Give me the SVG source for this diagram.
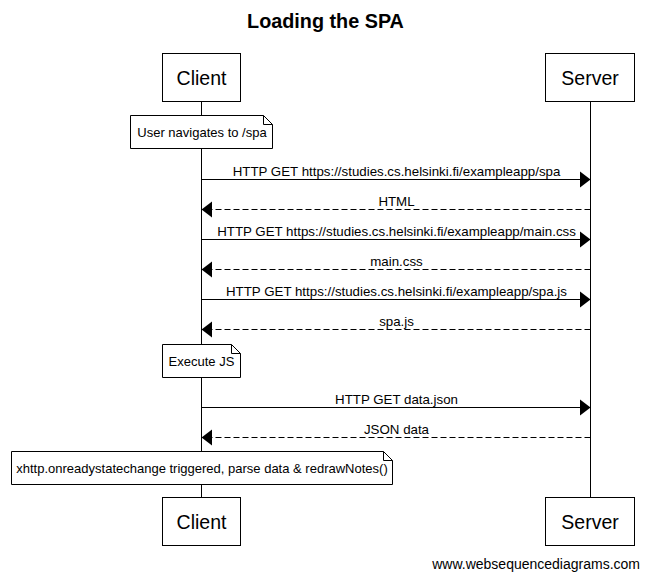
<svg xmlns="http://www.w3.org/2000/svg" width="649" height="581" viewBox="0 0 649 581">
<style>
text{font-family:"Liberation Sans",Arial,sans-serif;fill:#000}
.title{font-size:19.8px;font-weight:bold;text-anchor:middle}
.part{font-size:19.5px;text-anchor:middle}
.lbl{font-size:13.3px;text-anchor:middle}
.nt{font-size:13px;text-anchor:middle}
.box{fill:#fff;stroke:#000;stroke-width:1}
.life{stroke:#000;stroke-width:1;fill:none}
.msg{stroke:#000;stroke-width:1;fill:none}
.ret{stroke:#000;stroke-width:1;fill:none;stroke-dasharray:6,3}
.head{fill:#000;stroke:none}
.wm{font-size:14px;text-anchor:end}
</style>
<rect width="649" height="581" fill="#fff"/>
<text class="title" x="325.5" y="28">Loading the SPA</text>
<g id="lifelines">
<line class="life" x1="201.5" y1="101.5" x2="201.5" y2="497.5"/>
<line class="life" x1="590.5" y1="101.5" x2="590.5" y2="497.5"/>
</g>
<g id="client-top"><rect class="box" x="162.5" y="53.5" width="78" height="48"/><text class="part" x="201.5" y="84.5">Client</text></g>
<g id="server-top"><rect class="box" x="545.5" y="53.5" width="89" height="48"/><text class="part" x="590" y="84.5">Server</text></g>
<g id="client-bottom"><rect class="box" x="162.5" y="497.5" width="78" height="48"/><text class="part" x="201.5" y="528.5">Client</text></g>
<g id="server-bottom"><rect class="box" x="545.5" y="497.5" width="89" height="48"/><text class="part" x="590" y="528.5">Server</text></g>
<g id="note1"><path class="box" d="M130.5,115.5 H263.5 L272.5,124.5 V148.5 H130.5 Z"/><path class="life" d="M263.5,115.5 V124.5 H272.5"/><text class="nt" x="202" y="136.5">User navigates to /spa</text></g>
<g id="note2"><path class="box" d="M162.5,344.5 H231.5 L240.5,353.5 V377.5 H162.5 Z"/><path class="life" d="M231.5,344.5 V353.5 H240.5"/><text class="nt" x="201.5" y="365.5">Execute JS</text></g>
<g id="note3"><path class="box" d="M11.5,451.5 H383.5 L392.5,460.5 V484.5 H11.5 Z"/><path class="life" d="M383.5,451.5 V460.5 H392.5"/><text class="nt" x="202" y="472.5">xhttp.onreadystatechange triggered, parse data &amp; redrawNotes()</text></g>
<g id="connectors">
<line class="msg" x1="201.5" y1="179.5" x2="581" y2="179.5"/><polygon class="head" points="580,171.5 590.5,179.5 580,187.5"/>
<text class="lbl" x="396.5" y="175.5">HTTP GET https://studies.cs.helsinki.fi/exampleapp/spa</text>
<line class="ret" x1="590.5" y1="209.5" x2="211" y2="209.5"/><polygon class="head" points="212,201.5 201.5,209.5 212,217.5"/>
<text class="lbl" x="396.5" y="205.5">HTML</text>
<line class="msg" x1="201.5" y1="239.5" x2="581" y2="239.5"/><polygon class="head" points="580,231.5 590.5,239.5 580,247.5"/>
<text class="lbl" x="396.5" y="235.5">HTTP GET https://studies.cs.helsinki.fi/exampleapp/main.css</text>
<line class="ret" x1="590.5" y1="269.5" x2="211" y2="269.5"/><polygon class="head" points="212,261.5 201.5,269.5 212,277.5"/>
<text class="lbl" x="396.5" y="265.5">main.css</text>
<line class="msg" x1="201.5" y1="299.5" x2="581" y2="299.5"/><polygon class="head" points="580,291.5 590.5,299.5 580,307.5"/>
<text class="lbl" x="396.5" y="295.5">HTTP GET https://studies.cs.helsinki.fi/exampleapp/spa.js</text>
<line class="ret" x1="590.5" y1="329.5" x2="211" y2="329.5"/><polygon class="head" points="212,321.5 201.5,329.5 212,337.5"/>
<text class="lbl" x="396.5" y="325.5">spa.js</text>
<line class="msg" x1="201.5" y1="407.5" x2="581" y2="407.5"/><polygon class="head" points="580,399.5 590.5,407.5 580,415.5"/>
<text class="lbl" x="396.5" y="403.5">HTTP GET data.json</text>
<line class="ret" x1="590.5" y1="437.5" x2="211" y2="437.5"/><polygon class="head" points="212,429.5 201.5,437.5 212,445.5"/>
<text class="lbl" x="396.5" y="433.5">JSON data</text>
</g>
<text class="wm" x="640" y="569">www.websequencediagrams.com</text>
</svg>
